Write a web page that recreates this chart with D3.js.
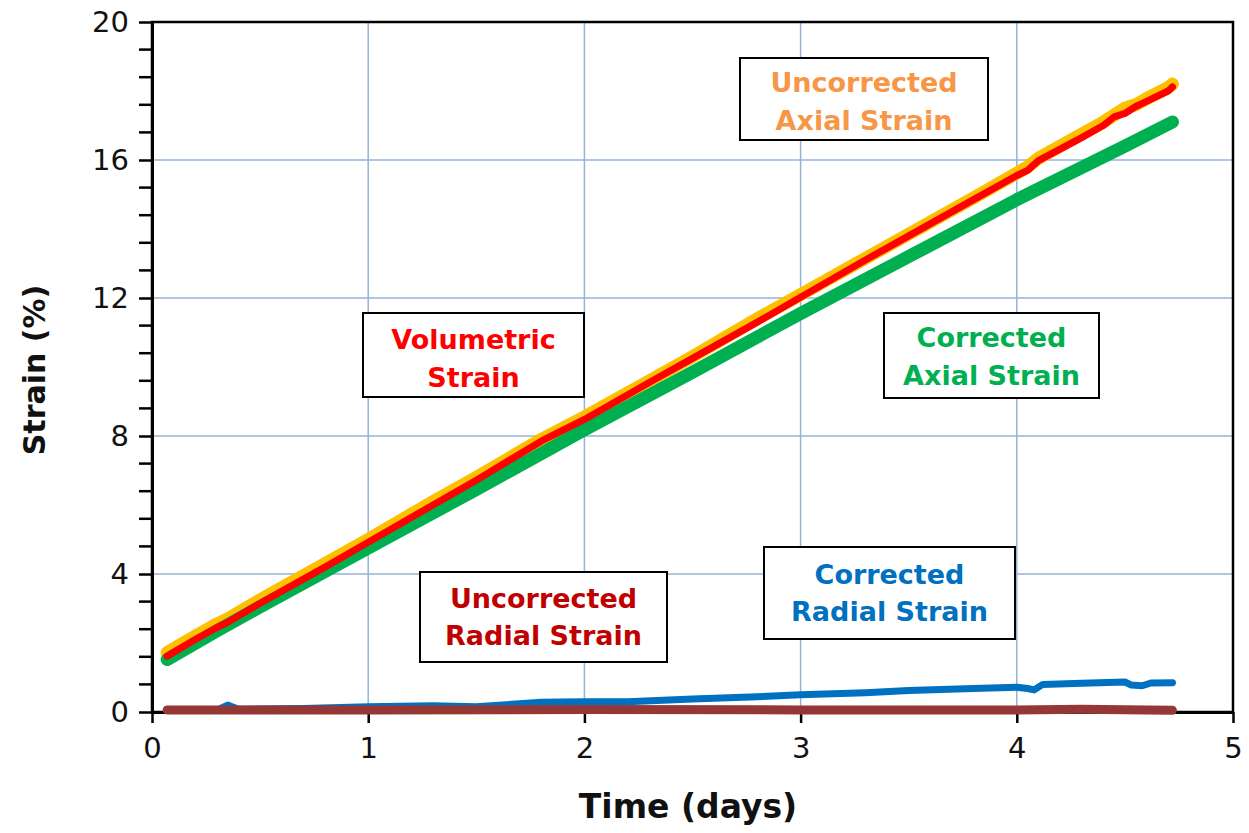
<!DOCTYPE html>
<html>
<head>
<meta charset="utf-8">
<script src="https://cdn.jsdelivr.net/npm/d3@7"></script>
<style>
  html, body { margin: 0; padding: 0; background: #fff; }
  svg { display: block; }
</style>
</head>
<body>
<svg id="chart" width="1249" height="833"></svg>
<script>
// ---------- DATA ----------
const xTicks = [0, 1, 2, 3, 4, 5];
const yTicks = [0, 4, 8, 12, 16, 20];

// Uncorrected axial strain (%)
const uncorrAxialT = [0.07, 0.2, 0.3, 0.35, 0.5, 0.8, 1.0, 1.3, 1.5, 1.8, 2.0, 2.3, 2.5, 2.8, 3.0, 3.3, 3.5, 3.8, 4.0, 4.05, 4.1, 4.3, 4.4, 4.5, 4.55, 4.6, 4.7, 4.72];
const uncorrAxialV = [1.72, 2.2, 2.55, 2.7, 3.25, 4.3, 5.0, 6.1, 6.8, 7.9, 8.55, 9.6, 10.3, 11.4, 12.1, 13.15, 13.85, 14.9, 15.62, 15.8, 16.05, 16.75, 17.1, 17.5, 17.6, 17.78, 18.1, 18.2];

// Volumetric strain (%)
const volumetricT = [0.07, 0.2, 0.3, 0.35, 0.5, 0.8, 1.0, 1.3, 1.5, 1.8, 2.0, 2.3, 2.5, 2.8, 3.0, 3.3, 3.5, 3.8, 4.0, 4.05, 4.1, 4.3, 4.4, 4.45, 4.5, 4.55, 4.6, 4.7, 4.72];
const volumetricV = [1.62, 2.1, 2.45, 2.6, 3.15, 4.2, 4.92, 6.0, 6.72, 7.85, 8.48, 9.55, 10.25, 11.3, 12.02, 13.1, 13.8, 14.85, 15.55, 15.7, 15.98, 16.65, 17.0, 17.25, 17.35, 17.55, 17.7, 18.0, 18.12];

// Corrected axial strain (%)
const corrAxialT = [0.07, 0.3, 0.5, 1.0, 1.5, 2.0, 2.5, 3.0, 3.5, 4.0, 4.5, 4.72];
const corrAxialV = [1.52, 2.35, 3.05, 4.75, 6.45, 8.18, 9.85, 11.55, 13.2, 14.85, 16.4, 17.1];

// Corrected radial strain (%)
const corrRadialT = [0.07, 0.3, 0.35, 0.4, 0.7, 1.0, 1.3, 1.5, 1.8, 2.0, 2.2, 2.5, 2.8, 3.0, 3.3, 3.5, 3.8, 4.0, 4.05, 4.08, 4.12, 4.3, 4.5, 4.53, 4.58, 4.62, 4.72];
const corrRadialV = [0.05, 0.05, 0.2, 0.08, 0.1, 0.15, 0.18, 0.15, 0.28, 0.3, 0.3, 0.38, 0.44, 0.5, 0.56, 0.62, 0.68, 0.72, 0.68, 0.64, 0.8, 0.83, 0.87, 0.78, 0.76, 0.84, 0.85];

// Uncorrected radial strain (%)
const uncorrRadialT = [0.07, 1.0, 2.0, 3.0, 4.0, 4.3, 4.6, 4.72];
const uncorrRadialV = [0.06, 0.06, 0.07, 0.06, 0.06, 0.08, 0.06, 0.05];

const labelTexts = [
  ["Uncorrected", "Axial Strain"],
  ["Volumetric", "Strain"],
  ["Corrected", "Axial Strain"],
  ["Uncorrected", "Radial Strain"],
  ["Corrected", "Radial Strain"]
];

// ---------- LAYOUT ----------
const svg = d3.select("#chart");
const L = 152, R = 1233, T = 22, B = 712;
const x = d3.scaleLinear().domain([0, 5]).range([L, R]);
const y = d3.scaleLinear().domain([0, 20]).range([B, T]);
const FONT = "'DejaVu Sans', Verdana, sans-serif";

// grid
const grid = svg.append("g").attr("stroke", "#95b3d7").attr("stroke-width", 1.5);
grid.selectAll(".gx").data(xTicks.slice(1, -1)).join("line")
  .attr("x1", d => x(d)).attr("x2", d => x(d)).attr("y1", T).attr("y2", B);
grid.selectAll(".gy").data(yTicks.slice(1, -1)).join("line")
  .attr("y1", d => y(d)).attr("y2", d => y(d)).attr("x1", L).attr("x2", R);

// frame
svg.append("rect").attr("x", L).attr("y", T).attr("width", R - L).attr("height", B - T)
  .attr("fill", "none").attr("stroke", "#000").attr("stroke-width", 2.5);

// axes
const yAxis = d3.axisLeft(y).tickValues(yTicks).tickSize(13).tickSizeOuter(0).tickFormat(d3.format("d")).tickPadding(10);
const gy = svg.append("g").attr("transform", `translate(${L},0)`).call(yAxis);
gy.select(".domain").attr("stroke-width", 3);
gy.selectAll(".tick line").attr("stroke-width", 2.5);
gy.selectAll("text").attr("font-family", FONT).attr("font-size", 29).attr("fill", "#111");

const minorY = d3.range(0, 20.001, 0.8).filter(v => Math.abs(v / 4 - Math.round(v / 4)) > 1e-6);
svg.append("g").selectAll("line").data(minorY).join("line")
  .attr("x1", L - 13).attr("x2", L).attr("y1", d => y(d)).attr("y2", d => y(d))
  .attr("stroke", "#000").attr("stroke-width", 2.5);

const xAxis = d3.axisBottom(x).tickValues(xTicks).tickSize(11).tickSizeOuter(0).tickFormat(d3.format("d")).tickPadding(14);
const gx = svg.append("g").attr("transform", `translate(0,${B})`).call(xAxis);
gx.select(".domain").attr("stroke-width", 3);
gx.selectAll(".tick line").attr("stroke-width", 2.5);
gx.selectAll("text").attr("font-family", FONT).attr("font-size", 29).attr("fill", "#111");

// series (drawn over axes)
const zip = (t, v) => t.map((d, i) => [d, v[i]]);
const line = d3.line().x(d => x(d[0])).y(d => y(d[1])).curve(d3.curveLinear);
const series = [
  { data: zip(corrRadialT, corrRadialV), color: "#0070c0", w: 7 },
  { data: zip(uncorrRadialT, uncorrRadialV), color: "#953735", w: 9 },
  { data: zip(uncorrAxialT, uncorrAxialV), color: "#ffc000", w: 13 },
  { data: zip(corrAxialT, corrAxialV), color: "#00b050", w: 13 },
  { data: zip(volumetricT, volumetricV), color: "#ff0000", w: 7 }
];
svg.append("g").selectAll("path").data(series).join("path")
  .attr("d", d => line(d.data))
  .attr("fill", "none")
  .attr("stroke", d => d.color)
  .attr("stroke-width", d => d.w)
  .attr("stroke-linecap", "round")
  .attr("stroke-linejoin", "round");

// axis titles
svg.append("text").attr("x", 688).attr("y", 818).attr("text-anchor", "middle")
  .attr("font-family", FONT).attr("font-weight", "bold").attr("font-size", 33).attr("fill", "#111")
  .text("Time (days)");
svg.append("text").attr("transform", "translate(45,370) rotate(-90)").attr("text-anchor", "middle")
  .attr("font-family", FONT).attr("font-weight", "bold").attr("font-size", 30).attr("fill", "#111")
  .text("Strain (%)");

// annotation boxes
const boxes = [
  { x0: 740, y0: 58, x1: 988, y1: 140, color: "#f79646", b1: 92, b2: 130 },
  { x0: 363, y0: 313, x1: 584, y1: 397, color: "#ff0000", b1: 349, b2: 387 },
  { x0: 884, y0: 313, x1: 1099, y1: 398, color: "#00b050", b1: 347, b2: 385 },
  { x0: 420, y0: 572, x1: 667, y1: 662, color: "#c00000", b1: 608, b2: 645 },
  { x0: 764, y0: 547, x1: 1015, y1: 639, color: "#0070c0", b1: 584, b2: 621 }
];
boxes.forEach((b, i) => {
  const g = svg.append("g");
  g.append("rect").attr("x", b.x0).attr("y", b.y0).attr("width", b.x1 - b.x0).attr("height", b.y1 - b.y0)
    .attr("fill", "#fff").attr("stroke", "#000").attr("stroke-width", 2);
  const cx = (b.x0 + b.x1) / 2;
  [b.b1, b.b2].forEach((by, j) => {
    g.append("text").attr("x", cx).attr("y", by).attr("text-anchor", "middle")
      .attr("font-family", FONT).attr("font-weight", "bold").attr("font-size", 27)
      .attr("fill", b.color).text(labelTexts[i][j]);
  });
});
</script>
</body>
</html>
